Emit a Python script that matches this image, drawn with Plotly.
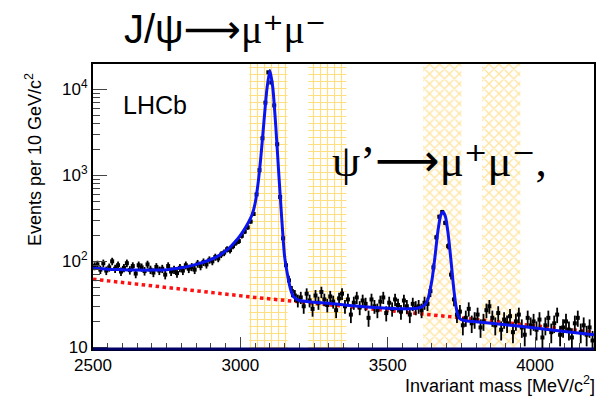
import numpy as np
import plotly.graph_objects as go

# ---- data ----
bin_centers = list(range(2505, 4200, 10))  # 10 MeV bins
counts = [
    88, 92, 80, 95, 78, 85, 100, 82, 90, 76,
    84, 95, 79, 88, 72, 90, 85, 77, 92, 80,
    74, 86, 78, 82, 70, 88, 76, 80, 73, 84,
    78, 90, 82, 86, 80, 94, 88, 98, 92, 104,
    100, 112, 108, 120, 126, 138, 135, 150, 165, 172,
    198, 222, 248, 290, 355, 600, 1150, 2700, 7000, 15800,
    12000, 6500, 2300, 560, 185, 90, 60, 45, 40, 35,
    38, 30, 42, 35, 28, 40, 33, 44, 36, 31,
    39, 34, 27, 37, 42, 30, 36, 24, 33, 38,
    29, 35, 32, 22, 36, 30, 27, 34, 38, 25,
    33, 28, 36, 31, 26, 35, 30, 24, 32, 29,
    30, 27, 33, 32, 45, 85, 190, 330, 375, 280,
    150, 70, 36, 24, 26, 18, 22, 28, 19, 21,
    24, 17, 20, 27, 30, 22, 18, 25, 16, 21,
    19, 23, 15, 20, 24, 17, 14, 22, 18, 20,
    16, 21, 13, 18, 22, 15, 19, 24, 14, 17,
    20, 16, 13, 19, 22, 15, 18, 14, 17, 12,
]

fit_mass = [2500, 2550, 2600, 2650, 2700, 2750, 2800, 2850, 2900, 2930, 2960, 2980,
            3000, 3020, 3040, 3050, 3060, 3070, 3080, 3090, 3100, 3110, 3120, 3130,
            3140, 3150, 3160, 3170, 3180, 3200, 3250, 3300, 3400, 3500, 3550, 3600,
            3620, 3635, 3650, 3660, 3670, 3680, 3688, 3696, 3705, 3715, 3725, 3735,
            3745, 3760, 3800, 3900, 4000, 4100, 4200]
fit_vals = [83, 81, 80, 79, 79, 80, 84, 92, 105, 118, 140, 165,
            200, 255, 350, 470, 800, 1700, 4200, 10000, 16600, 10500, 3800, 1100,
            330, 115, 70, 48, 39, 35, 33.5, 32.5, 30, 28.5, 28, 28.5,
            30, 35, 60, 110, 220, 345, 375, 330, 210, 100, 45, 26,
            21.5, 20.5, 19.8, 18.3, 16.8, 15.3, 14]

bkg_mass = [2500, 3050, 3750, 4200]
bkg_vals = [62, 38, 22, 15]

grid_bands = [(3030, 3160), (3230, 3360)]
cross_bands = [(3620, 3750), (3820, 3950)]

y_tickvals = [10, 100, 1000, 10000]
y_ticktext = ["10", "10<sup>2</sup>", "10<sup>3</sup>", "10<sup>4</sup>"]
y_minor = [m * 10 ** k for k in range(0, 5) for m in range(2, 10)]

FONT = "Liberation Sans, Arial, DejaVu Sans, sans-serif"
SERIF = "Liberation Serif, Times New Roman, DejaVu Serif, serif"

fig = go.Figure()

def band(lo, hi, shape, color, sol):
    fig.add_trace(go.Scatter(
        x=[lo, hi, hi, lo, lo], y=[1, 1, 1e5, 1e5, 1],
        mode="lines", fill="toself", line=dict(width=0),
        fillcolor="rgba(255,255,255,0)",
        fillpattern=dict(shape=shape, fgcolor=color, bgcolor="rgba(255,255,255,0)",
                         size=7, solidity=sol),
        hoverinfo="skip", showlegend=False))

for lo, hi in grid_bands:
    band(lo, hi, "+", "#FFBF00", 0.3)
for lo, hi in cross_bands:
    band(lo, hi, "x", "#FFC840", 0.35)

fig.add_trace(go.Scatter(x=bkg_mass, y=bkg_vals, mode="lines",
                         line=dict(color="#FF1010", width=3.5, dash="dot"),
                         showlegend=False))

cnt = np.array(counts, dtype=float)
fig.add_trace(go.Scatter(
    x=bin_centers, y=counts, mode="markers",
    marker=dict(symbol="square", size=4, color="black"),
    error_y=dict(type="data", array=np.sqrt(cnt), color="black", thickness=1.8, width=0),
    showlegend=False))

fig.add_trace(go.Scatter(x=fit_mass, y=fit_vals, mode="lines",
                         line=dict(color="#0A14F0", width=3, shape="spline", smoothing=0.6),
                         showlegend=False))

# body margin removed below, so the figure fills the 607x399 window
fig.update_layout(
    width=607, height=399,
    margin=dict(l=93, r=13, t=64, b=50),
    paper_bgcolor="white", plot_bgcolor="white",
    font=dict(family=FONT, size=16, color="black"),
    showlegend=False,
)

fig.update_xaxes(
    range=[2500, 4200], showgrid=False, zeroline=False,
    showline=True, linecolor="black", linewidth=2, mirror=True,
    tickvals=[2500, 3000, 3500, 4000], ticks="inside", ticklen=12,
    tickcolor="#444", tickwidth=1,
    minor=dict(tickvals=list(range(2550, 4200, 50)), ticks="inside", ticklen=6,
               tickcolor="#444", showgrid=False),
    tickfont=dict(size=17, family=FONT),
)
fig.update_yaxes(
    type="log", range=[0.98, 4.295], showgrid=False, zeroline=False,
    showline=True, linecolor="black", linewidth=2, mirror=True,
    tickvals=y_tickvals, ticktext=y_ticktext, ticks="inside", ticklen=14,
    tickcolor="#444", tickwidth=1,
    minor=dict(tickvals=y_minor, ticks="inside", ticklen=7, tickcolor="#444",
               showgrid=False),
    tickfont=dict(size=17, family=FONT),
)

fig.add_shape(type="line", xref="paper", yref="paper", x0=0, x1=1, y0=0, y1=0,
              line=dict(color="#000066", width=3))

W, H, L, T = 501.0, 285.0, 93.0, 64.0
def px(x): return (x - L) / W
def py(y): return (T + H - y) / H

mu = '<span style="font-family:%s">μ</span>' % SERIF
arrow = '<span style="font-family:DejaVu Sans">⟶</span>'
sp = '<span style="font-family:DejaVu Sans">⁺</span>'
sm = '<span style="font-family:DejaVu Sans">⁻</span>'
fig.add_annotation(text="J/ψ" + arrow + mu + sp + mu + sm,
                   x=px(225), y=py(29),
                   xref="paper", yref="paper", showarrow=False,
                   font=dict(size=40, family=FONT, color="black"),
                   xanchor="center", yanchor="middle")
fig.add_annotation(text="ψ’" + arrow + "μ" + sp + "μ" + sm + ",", x=px(439), y=py(160),
                   xref="paper", yref="paper", showarrow=False,
                   font=dict(size=45, family=SERIF, color="black"),
                   xanchor="center", yanchor="middle")
fig.add_annotation(text="LHCb", x=px(121), y=py(105), xref="paper", yref="paper",
                   showarrow=False, font=dict(size=25, family=FONT, color="black"),
                   xanchor="left", yanchor="middle")
fig.add_annotation(text="Events per 10 GeV/c<sup>2</sup>", x=px(33), y=py(160),
                   xref="paper", yref="paper", showarrow=False, textangle=-90,
                   font=dict(size=18, family=FONT, color="black"),
                   xanchor="center", yanchor="middle")
fig.add_annotation(text="Invariant mass [MeV/c<sup>2</sup>]", x=px(597), y=py(384),
                   xref="paper", yref="paper", showarrow=False,
                   font=dict(size=18, family=FONT, color="black"),
                   xanchor="right", yanchor="middle")

fig.write_html("out.html", config={"displayModeBar": False},
               post_script="document.body.style.margin='0px';")
